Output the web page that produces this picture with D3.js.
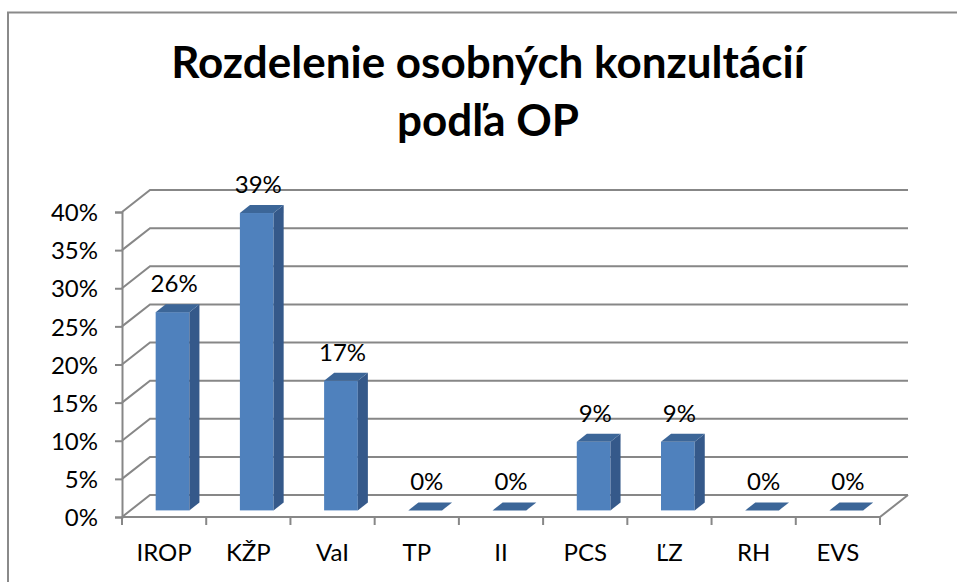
<!DOCTYPE html>
<html>
<head>
<meta charset="utf-8">
<script src="https://cdn.jsdelivr.net/npm/d3@7"></script>
<style>
  html, body { margin: 0; padding: 0; background: #fff; }
  svg { display: block; }
  text { font-family: Lato, "Open Sans", "Liberation Sans", sans-serif; fill: #000; }
</style>
</head>
<body>
<svg id="chart" width="957" height="582"></svg>
<script>
// ---- data ----
const categories = ["IROP", "KŽP", "VaI", "TP", "II", "PCS", "ĽZ", "RH", "EVS"];
const values = [0.26, 0.39, 0.17, 0, 0, 0.09, 0.09, 0, 0];
const yTicks = [0, 0.05, 0.10, 0.15, 0.20, 0.25, 0.30, 0.35, 0.40];
const titleLines = ["Rozdelenie osobných konzultácií", "podľa OP"];

// ---- layout ----
const W = 957, H = 582;
const front = { left: 122, right: 880, top: 212, bottom: 517 };
const depthX = 28, depthY = 22;       // full floor depth offset
const barFront = 0.30, barDepth = 0.36; // fraction of depth

const svg = d3.select("#chart");

// frame
svg.append("path")
  .attr("d", `M8,${H + 5} L8,12.5 L${W + 5},12.5`)
  .attr("fill", "none").attr("stroke", "#8a8a8a").attr("stroke-width", 2);

// title
const title = svg.append("text")
  .attr("x", 488).attr("text-anchor", "middle")
  .style("font-weight", "bold").style("font-size", "44px");
title.selectAll("tspan").data(titleLines).join("tspan")
  .attr("x", 488).attr("y", (d, i) => 78 + i * 58).text(d => d);

// scales
const x = d3.scaleBand().domain(categories).range([front.left, front.right]);
const y = d3.scaleLinear().domain([0, 0.40]).range([front.bottom, front.top]);

const grid = "#878787";

// gridlines (side wall + back wall)
svg.append("g").selectAll("path").data(yTicks).join("path")
  .attr("d", v => `M${front.left},${y(v)} L${front.left + depthX},${y(v) - depthY} L${front.right + depthX},${y(v) - depthY}`)
  .attr("fill", "none").attr("stroke", grid).attr("stroke-width", 2);

// floor front edge and right side
svg.append("path")
  .attr("d", `M${front.left},${y(0)} L${front.right},${y(0)} L${front.right + depthX},${y(0) - depthY}`)
  .attr("fill", "none").attr("stroke", grid).attr("stroke-width", 2);

// y axis
const yAxis = svg.append("g")
  .attr("transform", `translate(${front.left},0)`)
  .call(d3.axisLeft(y).tickValues(yTicks).tickFormat(d3.format(".0%")).tickSize(7).tickPadding(17));
yAxis.select(".domain").attr("stroke", grid).attr("stroke-width", 2);
yAxis.selectAll(".tick line").attr("stroke", grid).attr("stroke-width", 2);
yAxis.selectAll(".tick text").style("font-size", "24px").attr("dy", "0.36em");

// x axis
const xAxis = svg.append("g")
  .attr("transform", `translate(0,${front.bottom})`);
xAxis.selectAll("line").data(d3.range(categories.length + 1)).join("line")
  .attr("x1", i => front.left + i * x.step()).attr("x2", i => front.left + i * x.step())
  .attr("y1", 0).attr("y2", 8)
  .attr("stroke", grid).attr("stroke-width", 2);
xAxis.selectAll("text").data(categories).join("text")
  .attr("x", d => x(d) + x.bandwidth() / 2)
  .attr("y", 44)
  .attr("text-anchor", "middle")
  .style("font-size", "24px")
  .text(d => d);

// bars
const bw = x.bandwidth() * 0.40;
const fdx = depthX * barFront, fdy = depthY * barFront;
const ddx = depthX * barDepth, ddy = depthY * barDepth;
const colFront = "#4f81bd", colSide = "#35598a", colTop = "#3c6698";

const bars = svg.append("g").selectAll("g").data(categories).join("g");
bars.each(function (c, i) {
  const g = d3.select(this);
  const v = values[i];
  const x0 = x(c) + x.bandwidth() / 2 - bw / 2 + fdx;
  const x1 = x0 + bw;
  const yb = y(0) - fdy;
  const yt = y(v) - fdy;
  if (v > 0) {
    g.append("rect").attr("x", x0).attr("y", yt).attr("width", bw).attr("height", yb - yt)
      .attr("fill", colFront);
    g.append("path")
      .attr("d", `M${x1},${yb} L${x1 + ddx},${yb - ddy} L${x1 + ddx},${yt - ddy} L${x1},${yt} Z`)
      .attr("fill", colSide);
  }
  g.append("path")
    .attr("d", `M${x0},${yt} L${x1},${yt} L${x1 + ddx},${yt - ddy} L${x0 + ddx},${yt - ddy} Z`)
    .attr("fill", colTop);
  // value label
  g.append("text")
    .attr("x", x(c) + x.bandwidth() / 2 + 10)
    .attr("y", yt - ddy - 12)
    .attr("text-anchor", "middle")
    .style("font-size", "24px")
    .text(d3.format(".0%")(v));
});
</script>
</body>
</html>
